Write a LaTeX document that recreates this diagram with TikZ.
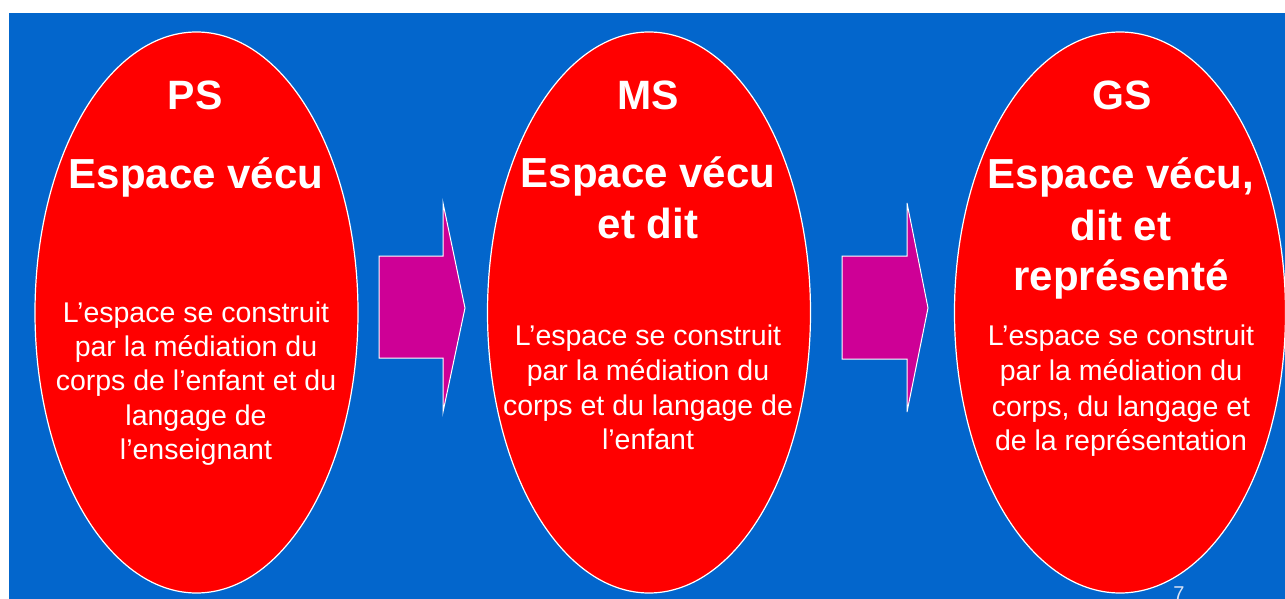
\documentclass[tikz,border=0pt]{standalone}
\usepackage{fontspec}
\setmainfont{Liberation Sans}
\usetikzlibrary{shapes.geometric}
\definecolor{slideblue}{RGB}{3,102,204}
\definecolor{ovalred}{RGB}{255,0,0}
\definecolor{arrowmag}{RGB}{206,0,150}
\definecolor{pagenum}{RGB}{215,225,245}
\tikzset{
  oval/.style={ellipse, draw=white, line width=1.2pt, fill=ovalred, inner sep=0pt,
    minimum width=323pt, minimum height=561pt},
  blockarrow/.style={draw=white, line width=1pt, fill=arrowmag, line join=miter},
  lvl/.style={text=white, inner sep=0pt, anchor=base, font=\fontsize{41}{48}\selectfont\bfseries},
  ttl/.style={text=white, inner sep=0pt, anchor=base, font=\fontsize{42}{50}\selectfont\bfseries},
  bdy/.style={text=white, inner sep=0pt, anchor=base, font=\fontsize{28.5}{34}\selectfont},
}
\begin{document}
\begin{tikzpicture}[x=1pt,y=-1pt]
\useasboundingbox (0,0) rectangle (1285,599);
\fill[white] (0,0) rectangle (1285,599);
\fill[slideblue] (9,13) rectangle (1285,599);

% ovals
\node[oval] (ps) at (196.5,312.5) {};
\node[oval] (ms) at (649,312.5) {};
\node[oval, minimum width=331pt] (gs) at (1120,312.5) {};

% block arrows
\draw[blockarrow] (379,256) -- (443,256) -- (443,203) -- (465,308) -- (443,412) -- (443,358) -- (379,358) -- cycle;
\draw[blockarrow] (842,256) -- (907,256) -- (907,203) -- (928,308) -- (907,412) -- (907,359) -- (842,359) -- cycle;

% PS
\node[lvl] (psl) at (195,110) {PS};
\node[ttl] (pst1) at (196,188) {Espace vécu};
\node[bdy] (psb1) at (196,322) {L’espace se construit};
\node[bdy] (psb2) at (196,356) {par la médiation du};
\node[bdy] (psb3) at (196,390) {corps de l’enfant et du};
\node[bdy] (psb4) at (196,425) {langage de};
\node[bdy] (psb5) at (196,459) {l’enseignant};

% MS
\node[lvl] (msl) at (648,110) {MS};
\node[ttl] (mst1) at (648,187) {Espace vécu};
\node[ttl] (mst2) at (648,238) {et dit};
\node[bdy] (msb1) at (648,345) {L’espace se construit};
\node[bdy] (msb2) at (648,380) {par la médiation du};
\node[bdy] (msb3) at (648,415) {corps et du langage de};
\node[bdy] (msb4) at (648,449) {l’enfant};

% GS
\node[lvl] (gsl) at (1122,110) {GS};
\node[ttl] (gst1) at (1121,188) {Espace vécu,};
\node[ttl] (gst2) at (1121,240) {dit et};
\node[ttl] (gst3) at (1121,290) {représenté};
\node[bdy] (gsb1) at (1121,345) {L’espace se construit};
\node[bdy] (gsb2) at (1121,380) {par la médiation du};
\node[bdy] (gsb3) at (1121,416) {corps, du langage et};
\node[bdy] (gsb4) at (1121,450) {de la représentation};

% page number
\node[text=pagenum, inner sep=0pt, anchor=base, font=\fontsize{20}{24}\selectfont] (pg) at (1179,600) {7};
\end{tikzpicture}
\end{document}
